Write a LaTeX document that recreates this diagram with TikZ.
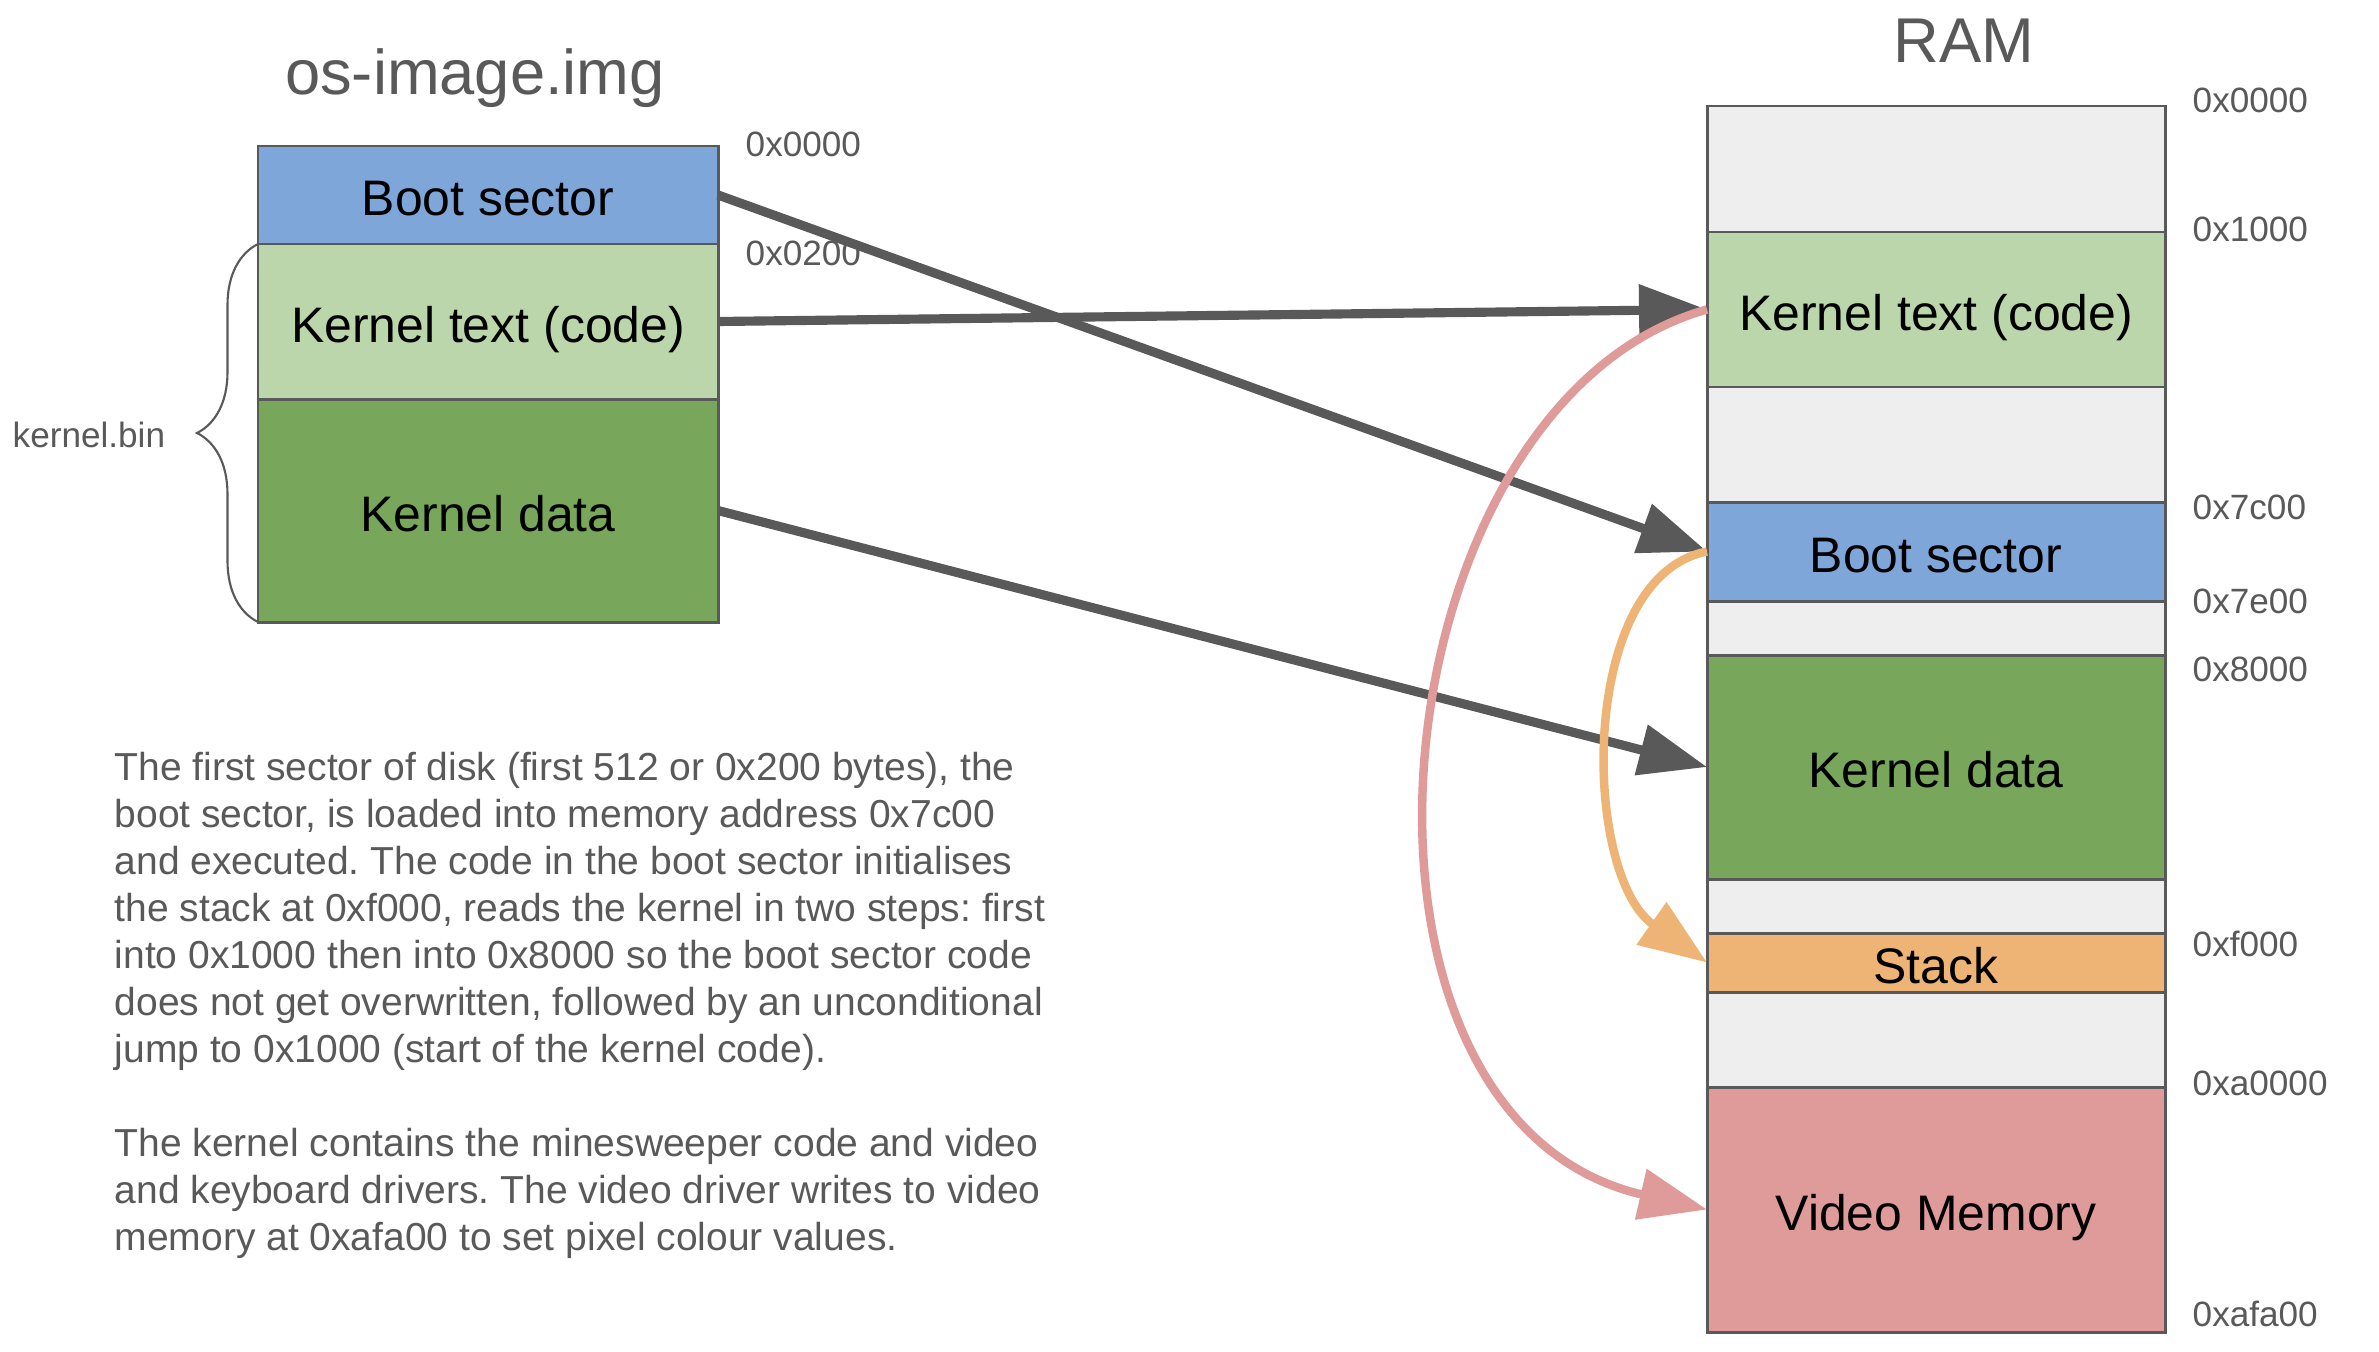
\documentclass[tikz,border=0pt]{standalone}
\usepackage{fontspec}
\setmainfont{Liberation Sans}
\usetikzlibrary{arrows.meta,positioning,decorations.pathreplacing}
\definecolor{linegray}{HTML}{595959}
\definecolor{freegray}{HTML}{EEEEEE}
\definecolor{bootblue}{HTML}{7EA6D9}
\definecolor{textgreen}{HTML}{BBD6AA}
\definecolor{datagreen}{HTML}{78A65A}
\definecolor{stackorange}{HTML}{EDB476}
\definecolor{videored}{HTML}{DE9B99}
\frenchspacing

\begin{document}
\begin{tikzpicture}[
  seg/.style={draw=linegray, line width=0.85pt, outer sep=0pt, inner sep=0pt,
    text height=11.9pt, text depth=0pt, text=black, font=\fontsize{14.2}{17}\selectfont},
  imgseg/.style={seg, minimum width=4.60cm},
  ramseg/.style={seg, minimum width=4.58cm},
  heading/.style={anchor=base, text=linegray, font=\fontsize{18}{21}\selectfont},
  lbl/.style={anchor=west, inner sep=0pt, text=linegray, font=\fontsize{10}{12}\selectfont},
  note/.style={anchor=north west, align=left, inner sep=0pt, text=linegray,
    font=\fontsize{11.1}{13.37}\selectfont},
  copyarrow/.style={draw=linegray, line width=2.6pt, -{Triangle[length=6.8mm,width=5mm]}},
  jumparrow/.style={line width=2.4pt, -{Triangle[length=6.8mm,width=5mm]}},
]
\fill[white] (0,0) rectangle (23.79,-13.51);
\useasboundingbox (0,0) rectangle (23.79,-13.51);

% os-image.img
\node[heading] (imgtitle) at (4.75,-0.95) {os-image.img};
\node[imgseg, fill=bootblue, minimum height=0.98cm, anchor=north west] (imgboot) at (2.58,-1.46) {Boot sector};
\node[imgseg, fill=textgreen, minimum height=1.55cm, below=0pt of imgboot] (imgtext) {Kernel text (code)};
\node[imgseg, fill=datagreen, minimum height=2.23cm, below=0pt of imgtext] (imgdata) {Kernel data};
\node[lbl] (imgaddr0) at (7.45,-1.44) {0x0000};
\node[lbl] (imgaddr1) at (7.45,-2.53) {0x0200};
\draw[linegray, line width=0.6pt, decorate, decoration={brace, amplitude=6.1mm}]
  (imgdata.south west) -- (imgtext.north west);
\node[lbl] (binlabel) at (0.12,-4.35) {kernel.bin};

% RAM
\node[heading] (ramtitle) at (19.64,-0.625) {RAM};
\node[ramseg, fill=freegray, minimum height=1.26cm, anchor=north west] (ramfree0) at (17.07,-1.06) {};
\node[ramseg, fill=textgreen, minimum height=1.55cm, below=0pt of ramfree0] (ramtext) {Kernel text (code)};
\node[ramseg, fill=freegray, minimum height=1.15cm, below=0pt of ramtext] (ramfree1) {};
\node[ramseg, fill=bootblue, minimum height=0.99cm, below=0pt of ramfree1] (ramboot) {Boot sector};
\node[ramseg, fill=freegray, minimum height=0.54cm, below=0pt of ramboot] (ramfree2) {};
\node[ramseg, fill=datagreen, minimum height=2.24cm, below=0pt of ramfree2] (ramdata) {Kernel data};
\node[ramseg, fill=freegray, minimum height=0.54cm, below=0pt of ramdata] (ramfree3) {};
\node[ramseg, fill=stackorange, minimum height=0.59cm, below=0pt of ramfree3] (ramstack) {Stack};
\node[ramseg, fill=freegray, minimum height=0.95cm, below=0pt of ramstack] (ramfree4) {};
\node[ramseg, fill=videored, minimum height=2.45cm, below=0pt of ramfree4] (ramvideo) {Video Memory};

% addresses
\node[lbl] (ramaddr0) at (21.92,-1.00) {0x0000};
\node[lbl] (ramaddr1) at (21.92,-2.29) {0x1000};
\node[lbl] (ramaddr2) at (21.92,-5.07) {0x7c00};
\node[lbl] (ramaddr3) at (21.92,-6.01) {0x7e00};
\node[lbl] (ramaddr4) at (21.92,-6.69) {0x8000};
\node[lbl] (ramaddr5) at (21.92,-9.44) {0xf000};
\node[lbl] (ramaddr6) at (21.92,-10.83) {0xa0000};
\node[lbl] (ramaddr7) at (21.92,-13.14) {0xafa00};

% loading
\draw[copyarrow] (imgboot.east) -- (ramboot.west);
\draw[copyarrow] (imgtext.east) -- (ramtext.west);
\draw[copyarrow] (imgdata.east) -- (ramdata.west);

% boot sector -> stack, kernel -> video memory
\draw[jumparrow, videored] (ramtext.west) .. controls +(-3.33,-0.93) and +(-3.99,0.92) .. (ramvideo.west);
\draw[jumparrow, stackorange] (ramboot.west) .. controls +(-1.3,-0.25) and +(-1.25,0.88) .. (ramstack.west);

% explanation
\node[note] (bootnote) at (1.14,-7.52) {The first sector of disk (first 512 or 0x200 bytes), the\\
boot sector, is loaded into memory address 0x7c00\\
and executed. The code in the boot sector initialises\\
the stack at 0xf000, reads the kernel in two steps: first\\
into 0x1000 then into 0x8000 so the boot sector code\\
does not get overwritten, followed by an unconditional\\
jump to 0x1000 (start of the kernel code).};
\node[note] (kernelnote) at (1.14,-11.28) {The kernel contains the minesweeper code and video\\
and keyboard drivers. The video driver writes to video\\
memory at 0xafa00 to set pixel colour values.};
\end{tikzpicture}
\end{document}
